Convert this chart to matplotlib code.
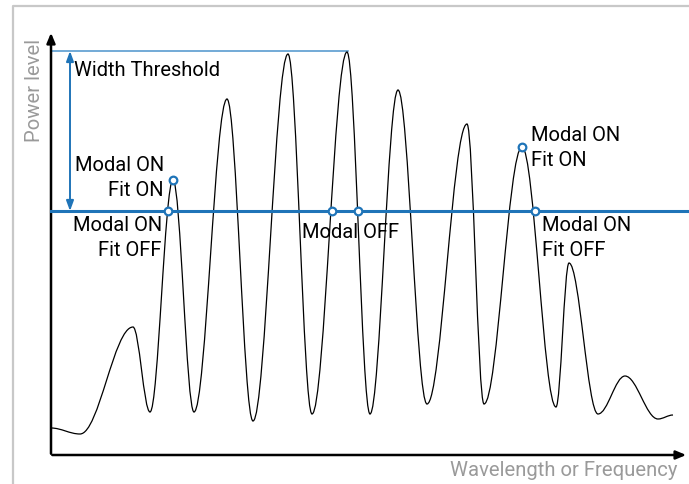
import numpy as np
import matplotlib
matplotlib.use('Agg')
import matplotlib.pyplot as plt
from matplotlib.path import Path
from matplotlib.patches import PathPatch

plt.rcParams['font.family'] = ['Roboto', 'DejaVu Sans']

# spectrum extrema (wavelength units, power units)
curve_x = [0, 29, 82, 99, 122, 143, 176, 202, 237, 261, 296, 319, 347, 376,
           416, 433, 471, 505, 518, 547, 574, 607, 622]
curve_y = [27, 21, 128, 43, 275, 43, 356, 34, 401, 41, 403, 41, 365, 51,
           331, 51, 308, 48, 192, 41, 79, 36, 40]

threshold = 244
top_level = 404
top_end = 297

# annotated points on the spectrum
marker_x = [122, 117, 281, 307, 471, 484]
marker_y = [275, 244, 244, 244, 308, 244]

BLUE = '#1f74b8'
LIGHT_BLUE = '#4b93cc'
GRAY = '#9a9a9a'


def spectrum_path(xs, ys, k=0.36):
    """ smooth path through extrema, flat tangent at every extremum """
    verts = [(xs[0], ys[0])]
    codes = [Path.MOVETO]
    for i in range(1, len(xs)):
        x0, y0, x1, y1 = xs[i-1], ys[i-1], xs[i], ys[i]
        dx = x1 - x0
        verts += [(x0 + k*dx, y0), (x1 - k*dx, y1), (x1, y1)]
        codes += [Path.CURVE4] * 3
    return Path(verts, codes)


fig = plt.figure(figsize=(6.89, 4.84), dpi=100)
ax = fig.add_axes([0, 0, 1, 1])
ax.set_xlim(-51, 638)
ax.set_ylim(-29, 455)
ax.axis('off')

# outer frame
ax.plot([13/689, 13/689, 1], [0, 1 - 6/484, 1 - 6/484], transform=ax.transAxes,
        color='#c8c8c8', lw=1.6, clip_on=False)

# axes with arrows
ax.annotate('', xy=(0, 425), xytext=(0, -1.5),
            arrowprops=dict(arrowstyle='-|>,head_length=0.6,head_width=0.25', color='black', lw=1.8))
ax.annotate('', xy=(638, 0), xytext=(-1.5, 0),
            arrowprops=dict(arrowstyle='-|>,head_length=0.6,head_width=0.25', color='black', lw=1.8))

ax.text(-16, 365, 'Power level', rotation=90, ha='center', va='center', color=GRAY, fontsize=14.6)
ax.text(626, -16, 'Wavelength or Frequency', ha='right', va='center', color=GRAY, fontsize=14.6)

# threshold lines
ax.plot([0, top_end], [top_level, top_level], color=LIGHT_BLUE, lw=1.1)
ax.plot([0, 637], [threshold, threshold], color=BLUE, lw=2.2, zorder=3)
ax.annotate('', xy=(19, top_level), xytext=(19, threshold),
            arrowprops=dict(arrowstyle='<|-|>,head_length=0.6,head_width=0.22', color=BLUE, lw=1.4,
                            shrinkA=0, shrinkB=0))

ax.add_patch(PathPatch(spectrum_path(curve_x, curve_y), facecolor='none', edgecolor='black', lw=0.9, zorder=2))

ax.plot(marker_x, marker_y, 'o', ms=5.5, mfc='white', mec=BLUE, mew=1.6, zorder=4)

fs = 14.5
ls = 1.4
ax.text(23, 385, 'Width Threshold', ha='left', va='center', fontsize=fs)
ax.text(113, 277, 'Modal ON\nFit ON', ha='right', va='center', ma='right', fontsize=fs, linespacing=ls)
ax.text(111, 217, 'Modal ON\nFit OFF', ha='right', va='center', ma='right', fontsize=fs, linespacing=ls)
ax.text(300, 223, 'Modal OFF', ha='center', va='center', fontsize=fs)
ax.text(480, 307, 'Modal ON\nFit ON', ha='left', va='center', ma='left', fontsize=fs, linespacing=ls)
ax.text(491, 217, 'Modal ON\nFit OFF', ha='left', va='center', ma='left', fontsize=fs, linespacing=ls)

fig.savefig('out.png', dpi=100)
